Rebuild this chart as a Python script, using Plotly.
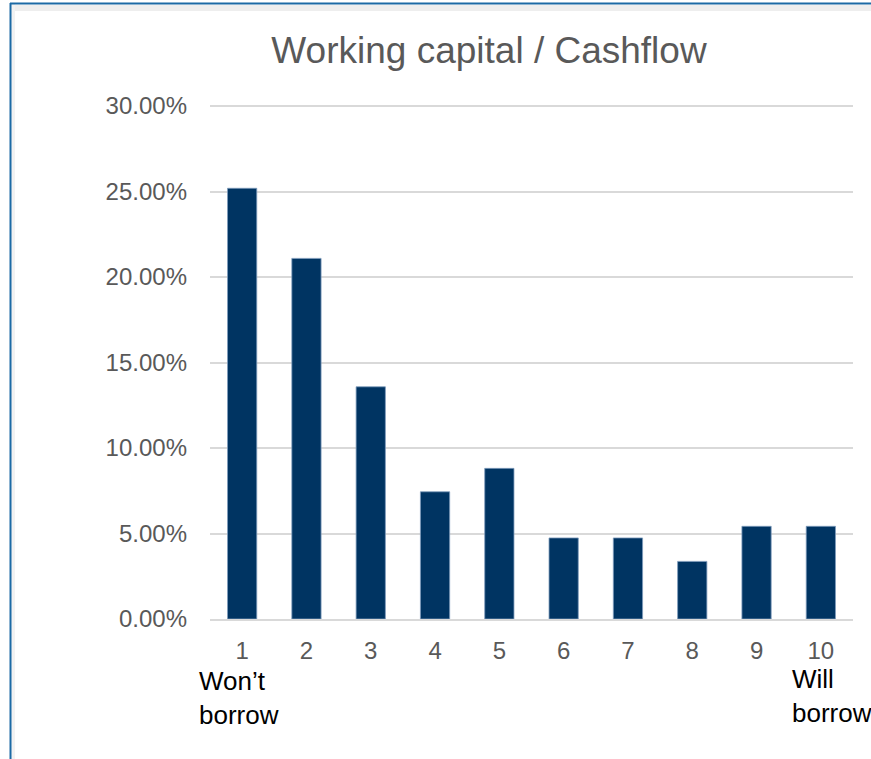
import plotly.graph_objects as go

categories = ["1", "2", "3", "4", "5", "6", "7", "8", "9", "10"]
values = [0.2519, 0.2109, 0.1358, 0.0744, 0.0881, 0.0474, 0.0474, 0.0337, 0.0542, 0.0542]
y_ticks = [0, 0.05, 0.10, 0.15, 0.20, 0.25, 0.30]
title_text = "Working capital / Cashflow"
left_note = "Won’t<br>borrow"
right_note = "Will<br>borrow"

W, H = 871, 759
L, R, T, B = 210, 18, 105, 140
pw, ph = W - L - R, H - T - B


def px(x):
    return (x - L) / pw


def py(y):
    return (H - B - y) / ph


fig = go.Figure(go.Bar(
    x=categories, y=values,
    marker=dict(color="#003462", line=dict(color="#7f9cbc", width=0.8)),
))

fig.update_layout(
    width=W, height=H,
    margin=dict(l=L, r=R, t=T, b=B),
    paper_bgcolor="white", plot_bgcolor="white",
    bargap=0.545,
    showlegend=False,
    font=dict(family="Liberation Sans, Arial, sans-serif", color="#595959"),
    title=dict(text=title_text, x=489 / W, xref="container", xanchor="center",
               y=1 - 50 / H, yref="container", yanchor="middle",
               font=dict(size=37, color="#595959")),
)
fig.update_yaxes(range=[0, 0.3006], tickvals=y_ticks, tickformat=".2%",
                 showgrid=True, gridcolor="#d9d9d9", gridwidth=1.5,
                 zeroline=False, showline=False, ticks="",
                 tickfont=dict(size=24, color="#595959"), ticklabelstandoff=22)
fig.update_xaxes(showgrid=False, showline=True, linecolor="#d9d9d9", linewidth=1.5,
                 ticks="", tickfont=dict(size=24, color="#595959"),
                 ticklabelstandoff=9)

fig.add_annotation(text=left_note, xref="paper", yref="paper", x=px(197), y=py(698),
                   xanchor="left", yanchor="middle", align="left", showarrow=False,
                   font=dict(size=26, color="#000000", family="Liberation Sans, Arial"))
fig.add_annotation(text=right_note, xref="paper", yref="paper", x=px(790), y=py(696),
                   xanchor="left", yanchor="middle", align="left", showarrow=False,
                   font=dict(size=26, color="#000000", family="Liberation Sans, Arial"))

# slide frame (border + faint shadow)
fig.add_shape(type="line", xref="paper", yref="paper", x0=px(10), x1=px(W + 5),
              y0=py(8), y1=py(8), line=dict(color="#eeeeee", width=6), layer="below")
fig.add_shape(type="line", xref="paper", yref="paper", x0=px(13), x1=px(13),
              y0=py(3), y1=py(H + 5), line=dict(color="#f2f2f2", width=4), layer="below")
fig.add_shape(type="line", xref="paper", yref="paper", x0=px(10), x1=px(W + 5),
              y0=py(3.5), y1=py(3.5), line=dict(color="#1c6aa5", width=2))
fig.add_shape(type="line", xref="paper", yref="paper", x0=px(10.5), x1=px(10.5),
              y0=py(3), y1=py(H + 5), line=dict(color="#1c6aa5", width=2))

fig.write_html("out.html", config={"displayModeBar": False},
               post_script="document.body.style.margin='0';document.body.style.overflow='hidden';")
